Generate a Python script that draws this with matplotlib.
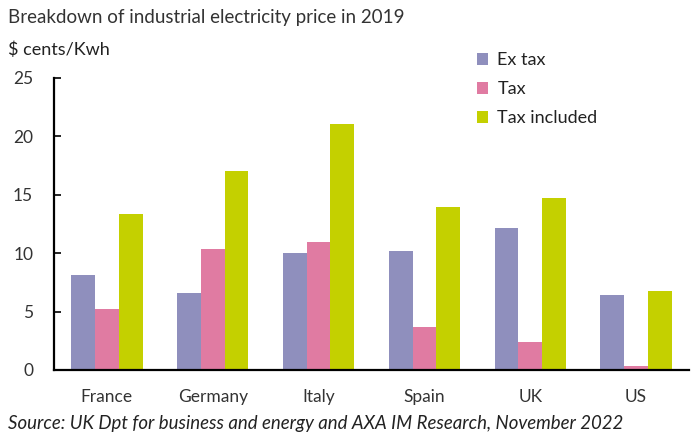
import matplotlib.pyplot as plt
import numpy as np

countries = ['France', 'Germany', 'Italy', 'Spain', 'UK', 'US']
ex_tax = [8.1, 6.6, 10.0, 10.2, 12.2, 6.45]
tax = [5.2, 10.4, 11.0, 3.7, 2.4, 0.3]
tax_incl = [13.35, 17.0, 21.1, 13.95, 14.7, 6.8]
series_names = ['Ex tax', 'Tax', 'Tax included']
colors = ['#8F8FBD', '#E07BA2', '#C4D000']

plt.rcParams['font.family'] = ['Lato', 'DejaVu Sans']

fig = plt.figure(figsize=(6.99, 4.37), dpi=100)
ax = fig.add_axes([54 / 699, 1 - 370 / 437, 635 / 699, 292 / 437])

x = np.arange(len(countries))
w = 0.225
for i, (vals, name) in enumerate(zip([ex_tax, tax, tax_incl], series_names)):
    ax.bar(x + (i - 1) * w, vals, width=w, color=colors[i], label=name)

ax.set_xlim(-0.5, len(countries) - 0.5)
ax.set_ylim(0, 25)
ax.set_yticks([0, 5, 10, 15, 20, 25])
ax.set_xticks(x)
ax.set_xticklabels(countries)

for s in ['top', 'right']:
    ax.spines[s].set_visible(False)
for s in ['left', 'bottom']:
    ax.spines[s].set_linewidth(1.6)
    ax.spines[s].set_color('black')

ax.tick_params(axis='y', direction='in', length=5, width=1.2, pad=15,
               labelsize=12.5, labelcolor='#333333')
ax.tick_params(axis='x', length=0, pad=14, labelsize=12.5, labelcolor='#333333')

leg = ax.legend(loc='upper left', bbox_to_anchor=(0.64, 1.145), frameon=False,
                fontsize=13, handlelength=0.65, handleheight=0.65,
                handletextpad=0.5, labelspacing=0.72, labelcolor='#222222')

fig.text(8 / 699, 1 - 18 / 437, 'Breakdown of industrial electricity price in 2019',
         fontsize=13.5, color='#333333', va='center', ha='left')
fig.text(8 / 699, 1 - 50 / 437, r'\$ cents/Kwh', fontsize=13,
         color='#222222', va='center', ha='left')
fig.text(8 / 699, 1 - 424 / 437,
         'Source: UK Dpt for business and energy and AXA IM Research, November 2022',
         fontsize=13.4, style='italic', color='#222222', va='center', ha='left')

fig.savefig('out.png', dpi=100)
